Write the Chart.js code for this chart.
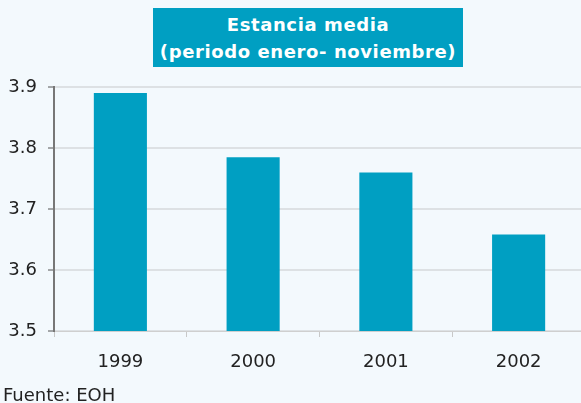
<!DOCTYPE html>
<html>
<head>
<meta charset="utf-8">
<script src="https://cdn.jsdelivr.net/npm/chart.js@4"></script>
<style>
  html, body { margin: 0; padding: 0; background: #f3f9fd; overflow: hidden; }
  #wrap { position: relative; width: 581px; height: 403px; overflow: hidden; }
  #chart { position: absolute; left: 0; top: 0; }
  #title {
    position: absolute; left: 153px; top: 8px; width: 310px; height: 59px;
    background: #009fc2; color: #fff; text-align: center;
    font: bold 18px "DejaVu Sans", Verdana, sans-serif; line-height: 27px;
    letter-spacing: 0.6px;
    padding-top: 3px; box-sizing: border-box;
  }
  #source {
    position: absolute; left: 3px; top: 384px; line-height: 21px;
    font: 18px "DejaVu Sans", Verdana, sans-serif; color: #222;
  }
</style>
</head>
<body>
<div id="wrap">
  <canvas id="chart"></canvas>
  <div id="title">Estancia media<br>(periodo enero- noviembre)</div>
  <div id="source">Fuente: EOH</div>
</div>
<script>
const years = ['1999', '2000', '2001', '2002'];
const stayValues = [3.89, 3.785, 3.76, 3.658];
const yTicks = [3.5, 3.6, 3.7, 3.8, 3.9];

const canvas = document.getElementById('chart');
canvas.width = 585;
canvas.height = 403;
canvas.style.width = '585px';
canvas.style.height = '403px';

new Chart(canvas, {
  type: 'bar',
  data: {
    labels: years,
    datasets: [{
      data: stayValues,
      backgroundColor: '#009fc2',
      borderWidth: 0,
      barPercentage: 0.8,
      categoryPercentage: 0.5
    }]
  },
  options: {
    responsive: false,
    animation: false,
    layout: { padding: { top: 87, left: 0, right: 0, bottom: 0 } },
    plugins: { legend: { display: false }, tooltip: { enabled: false } },
    scales: {
      x: {
        afterFit: s => { s.height = 72; },
        grid: { display: true, drawOnChartArea: false, offset: true, tickLength: 6, color: '#c8c8c8', lineWidth: 1 },
        border: { display: true, color: '#cfcfcf', width: 1 },
        ticks: { color: '#222', padding: 15, font: { family: 'DejaVu Sans', size: 18 } }
      },
      y: {
        min: 3.5,
        max: 3.9,
        afterFit: s => { s.width = 54; },
        afterBuildTicks: s => { s.ticks = yTicks.map(v => ({ value: v })); },
        grid: { color: '#dde1e4', lineWidth: 2, tickLength: 6, tickColor: '#555', tickWidth: 1 },
        border: { display: true, color: '#777', width: 2 },
        ticks: {
          color: '#222', padding: 11,
          font: { family: 'DejaVu Sans', size: 18 },
          callback: v => Number(v).toFixed(1)
        }
      }
    }
  }
});
</script>
</body>
</html>
